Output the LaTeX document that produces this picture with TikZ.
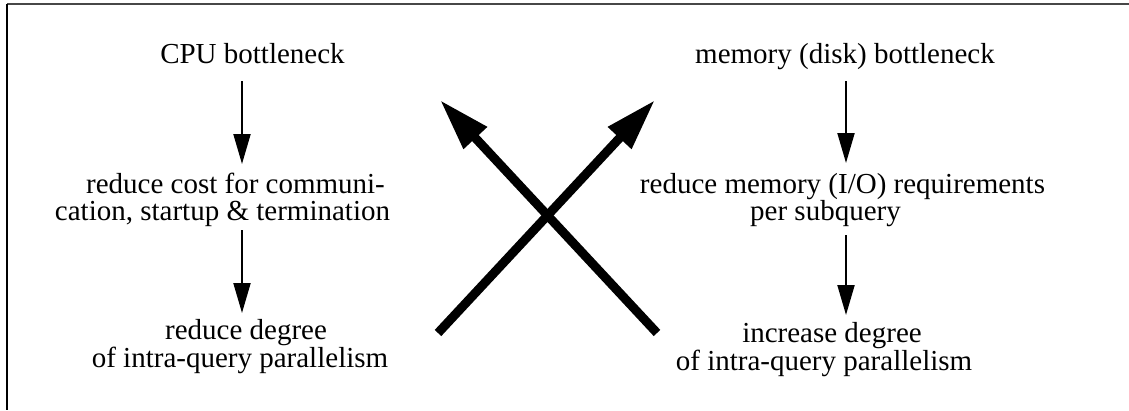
\documentclass[tikz,border=0pt]{standalone}
\usepackage{fontspec}
\setmainfont{Liberation Serif}
\usetikzlibrary{arrows.meta}
\begin{document}
\begin{tikzpicture}[x=1pt,y=-1pt,
  lbl/.style={font=\fontsize{29}{27}\selectfont, anchor=base, inner sep=0pt, align=center},
  lead/.style={font=\fontsize{29}{#1}\selectfont},
  sarrow/.style={line width=2pt, -{Triangle[length=30pt,width=17pt]}},
  barrow/.style={line width=9pt, -{Triangle[length=52pt,width=30pt]}},
  frameline/.style={line width=1.5pt},
]
\useasboundingbox (0,0) rectangle (1129,410);
% partial frame
\draw[frameline, black!72] (7,4) -- (1129,4);
\draw[frameline] (7,4) -- (7,410);

% text nodes (base anchor = baseline of the last line)
\node[lbl] (cpu) at (252.5,63) {CPU bottleneck};
\node[lbl] (mem) at (845,63) {memory (disk) bottleneck};
\node[lbl, lead=27] (cost) at (222.5,220) {\hspace*{26pt}reduce cost for communi-\\cation, startup \& termination};
\node[lbl, lead=27] (memreq) at (842.5,220) {reduce memory (I/O) requirements\\per subquery\hspace*{34pt}};
\node[lbl, lead=24] (degL) at (240,367) {\hspace*{12pt}reduce degree\\of intra-query parallelism};
\node[lbl, lead=26] (degR) at (824,370) {\hspace*{16pt}increase degree\\of intra-query parallelism};

% connector end points
\coordinate (c1s) at (242,81);  \coordinate (c1e) at (242,164);
\coordinate (c2s) at (242,230); \coordinate (c2e) at (242,313);
\coordinate (m1s) at (846,81);  \coordinate (m1e) at (846,163);
\coordinate (m2s) at (846,235); \coordinate (m2e) at (846,315);
\coordinate (xa) at (438,333);  \coordinate (xb) at (655,100);
\coordinate (xc) at (657,333);  \coordinate (xd) at (440,100);

\draw[sarrow] (c1s) -- (c1e);
\draw[sarrow] (c2s) -- (c2e);
\draw[sarrow] (m1s) -- (m1e);
\draw[sarrow] (m2s) -- (m2e);
\draw[barrow] (xa) -- (xb);
\draw[barrow] (xc) -- (xd);
\end{tikzpicture}
\end{document}
